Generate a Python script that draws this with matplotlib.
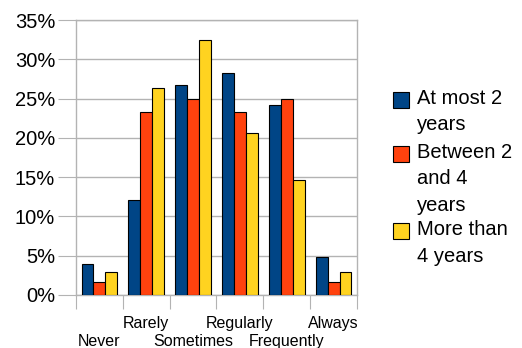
import matplotlib
matplotlib.use("Agg")
import matplotlib.pyplot as plt
import numpy as np
from matplotlib.patches import Rectangle

categories = ["Never", "Rarely", "Sometimes", "Regularly", "Frequently", "Always"]
series_names = ["At most 2\nyears", "Between 2\nand 4\nyears", "More than\n4 years"]
at_most_2 = [4.0, 12.1, 26.7, 28.2, 24.2, 4.8]
between_2_4 = [1.7, 23.3, 25.0, 23.3, 25.0, 1.7]
more_than_4 = [2.9, 26.4, 32.4, 20.6, 14.7, 2.9]
colors = ["#004586", "#ff420e", "#ffd320"]
yticks = [0, 5, 10, 15, 20, 25, 30, 35]

plt.rcParams['font.family'] = ['Liberation Sans', 'DejaVu Sans']

W, H = 522, 348
fig = plt.figure(figsize=(W / 100, H / 100), dpi=100)
ax = fig.add_axes([76 / W, 53 / H, 281 / W, 275 / H])

x = np.arange(len(categories))
bw = 0.253
series = [at_most_2, between_2_4, more_than_4]
for i, vals in enumerate(series):
    ax.bar(x + (i - 1) * bw, vals, width=bw, color=colors[i], edgecolor="black",
           linewidth=0.8, zorder=3)

ax.set_xlim(-0.5, len(categories) - 0.5)
ax.set_ylim(0, 35)
ax.set_yticks(yticks)
ax.set_yticklabels([f"{v}%" for v in yticks], fontsize=14.5)
ax.yaxis.grid(True, color="#b3b3b3", linewidth=1, zorder=0)
ax.tick_params(axis="y", length=13, color="#b3b3b3", pad=2)

ax.set_xticks(np.arange(len(categories) + 1) - 0.5)
ax.set_xticklabels([])
ax.tick_params(axis="x", length=10, color="#b3b3b3")
for s in ax.spines.values():
    s.set_color("#b3b3b3")
    s.set_linewidth(1)

for i, c in enumerate(categories):
    yoff = -33 / 275 if i % 2 == 1 else -51 / 275
    ax.text(i, yoff, c, transform=ax.get_xaxis_transform(), ha="center", va="baseline",
            fontsize=11.5)

# legend (manual layout to match multi-line entries with box aligned to first line)
box_tops = [92, 146, 223]
for i, name in enumerate(series_names):
    top = box_tops[i]
    fig.patches.append(Rectangle((392.5 / W, 1 - (top + 16) / H), 16 / W, 16 / H,
                                 transform=fig.transFigure, facecolor=colors[i],
                                 edgecolor="black", linewidth=0.8))
    fig.text(417 / W, 1 - (top - 3) / H, name, ha="left", va="top",
             fontsize=14.5, linespacing=1.5)

fig.savefig("out.png", dpi=100)
